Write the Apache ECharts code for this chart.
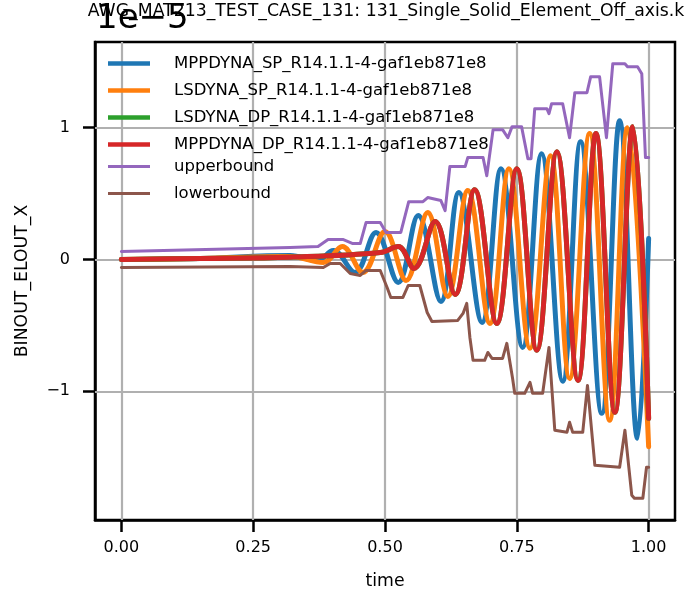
<!DOCTYPE html>
<html><head><meta charset="utf-8">
<script src="https://cdn.jsdelivr.net/npm/echarts@6/dist/echarts.min.js"></script>
<style>html,body{margin:0;padding:0;background:#fff}#c{width:689px;height:599px}</style>
</head><body><div id="c"></div><script>
const FONT = 'DejaVu Sans';
const chartTitle = 'AWG_MAT213_TEST_CASE_131: 131_Single_Solid_Element_Off_axis.k';
const offsetText = '1e\u22125';
const xName = 'time';
const yName = 'BINOUT_ELOUT_X';
const xTicks = [0, 0.25, 0.5, 0.75, 1.0];
const yTicks = [-1, 0, 1];
const names = ['MPPDYNA_SP_R14.1.1-4-gaf1eb871e8','LSDYNA_SP_R14.1.1-4-gaf1eb871e8','LSDYNA_DP_R14.1.1-4-gaf1eb871e8','MPPDYNA_DP_R14.1.1-4-gaf1eb871e8','upperbound','lowerbound'];
const colors = ['#1f77b4','#ff7f0e','#2ca02c','#d62728','#9467bd','#8c564b'];

// values in units of 1e-5, [time, value]
const mppdynaSp = [[0,0],[0.150,0.008],[0.320,0.030],[0.371,-0.008],[0.402,0.068],[0.443,-0.098],[0.483,0.205],[0.525,-0.174],[0.563,0.333],[0.606,-0.318],[0.640,0.508],[0.684,-0.477],[0.720,0.689],[0.761,-0.667],[0.797,0.803],[0.837,-0.924],[0.871,0.894],[0.911,-1.167],[0.945,1.053],[0.979,-1.356],[1.000,0.159]];
const lsdynaSp = [[0,0],[0.150,0.008],[0.320,0.023],[0.383,-0.023],[0.419,0.098],[0.458,-0.098],[0.500,0.212],[0.540,-0.159],[0.581,0.356],[0.619,-0.280],[0.657,0.523],[0.699,-0.485],[0.735,0.689],[0.775,-0.674],[0.814,0.788],[0.850,-0.902],[0.888,0.955],[0.926,-1.220],[0.960,1.000],[1.000,-1.420]];
const mppdynaDp = [[0,0],[0.150,0.008],[0.320,0.018],[0.491,0.053],[0.525,0.098],[0.555,-0.068],[0.595,0.288],[0.633,-0.265],[0.670,0.530],[0.712,-0.485],[0.750,0.689],[0.788,-0.689],[0.826,0.818],[0.866,-0.917],[0.900,0.955],[0.936,-1.159],[0.970,1.008],[1.000,-1.205]];
const lsdynaDp = [[0,0],[0.150,0.008],[0.320,0.018],[0.491,0.053],[0.525,0.098],[0.555,-0.068],[0.595,0.288],[0.633,-0.265],[0.670,0.530],[0.712,-0.485],[0.750,0.689],[0.788,-0.689],[0.826,0.818],[0.866,-0.917],[0.900,0.955],[0.936,-1.159],[0.970,1.008],[1.000,-1.205]];
const upperbound = [[0,0.061],[0.320,0.091],[0.373,0.098],[0.392,0.152],[0.420,0.152],[0.439,0.121],[0.453,0.121],[0.464,0.280],[0.491,0.280],[0.502,0.205],[0.530,0.205],[0.545,0.439],[0.572,0.439],[0.581,0.470],[0.606,0.447],[0.614,0.371],[0.623,0.705],[0.652,0.705],[0.657,0.773],[0.686,0.773],[0.693,0.636],[0.705,0.985],[0.723,0.985],[0.733,0.924],[0.741,1.008],[0.759,1.008],[0.771,0.765],[0.777,0.765],[0.784,1.144],[0.807,1.144],[0.811,1.106],[0.816,1.182],[0.837,1.182],[0.850,0.924],[0.860,1.265],[0.883,1.265],[0.890,1.386],[0.907,1.386],[0.920,0.924],[0.932,1.485],[0.955,1.485],[0.960,1.462],[0.979,1.462],[0.987,1.409],[0.994,0.773],[1.000,0.773]];
const lowerbound = [[0,-0.061],[0.320,-0.053],[0.383,-0.061],[0.396,-0.030],[0.415,-0.030],[0.434,-0.106],[0.453,-0.121],[0.464,-0.083],[0.491,-0.083],[0.504,-0.212],[0.511,-0.288],[0.534,-0.288],[0.544,-0.197],[0.566,-0.197],[0.580,-0.402],[0.589,-0.470],[0.638,-0.462],[0.648,-0.409],[0.655,-0.333],[0.661,-0.591],[0.667,-0.765],[0.689,-0.765],[0.695,-0.705],[0.703,-0.750],[0.723,-0.750],[0.731,-0.636],[0.742,-0.902],[0.746,-1.015],[0.765,-1.015],[0.775,-0.932],[0.780,-1.015],[0.799,-1.015],[0.811,-0.667],[0.822,-1.295],[0.845,-1.311],[0.850,-1.235],[0.856,-1.311],[0.875,-1.311],[0.884,-0.955],[0.898,-1.561],[0.945,-1.576],[0.955,-1.295],[0.968,-1.788],[0.973,-1.811],[0.989,-1.811],[0.996,-1.576],[1.000,-1.576]];

const allData = [mppdynaSp, lsdynaSp, lsdynaDp, mppdynaDp, upperbound, lowerbound];

const chart = echarts.init(document.getElementById('c'), null, {renderer:'canvas'});
const gridLines = xTicks.map(v => ({xAxis: v})).concat(yTicks.map(v => ({yAxis: v})));
const fmtY = v => v < 0 ? '\u2212' + Math.abs(v) : String(v);

const series = [{
  type:'line', data:[], z:1, silent:true, symbol:'none',
  markLine:{silent:true, symbol:['none','none'], z:1, label:{show:false}, animation:false,
    lineStyle:{color:'#b0b0b0', width:2.2, type:'solid'}, emphasis:{disabled:true}, data:gridLines}
}];
allData.forEach((d, i) => {
  const main = i < 4;
  series.push({
    name:names[i], type:'line', data:d, showSymbol:false, symbol:'none', z:2,
    smooth: main ? 0.38 : false,
    lineStyle:{color:colors[i], width: main ? 5 : 3, cap:'round', join:'round'},
    itemStyle:{color:colors[i]}, emphasis:{disabled:true}
  });
});

const legendBase = {orient:'vertical', left:108, itemWidth:42, itemGap:10, padding:0, selectedMode:false,
  textStyle:{fontFamily:FONT, fontSize:16.5, color:'#000', lineHeight:16, padding:[0,0,0,19]}};

chart.setOption({
  animation:false,
  backgroundColor:'#fff',
  grid:{left:95, right:14, top:42, bottom:79, show:true, borderColor:'#000', borderWidth:2.5, backgroundColor:'transparent'},
  xAxis:{type:'value', min:-0.05, max:1.05, name:xName, nameLocation:'middle', nameGap:53,
    nameTextStyle:{fontFamily:FONT, fontSize:17.3, color:'#000'},
    axisLine:{show:true, onZero:false, lineStyle:{color:'#000', width:2.5}},
    axisTick:{show:true, customValues:xTicks, length:12, inside:false, lineStyle:{color:'#000', width:2.5}},
    axisLabel:{customValues:xTicks, formatter:v => v.toFixed(2), fontFamily:FONT, fontSize:16, color:'#000', margin:20},
    splitLine:{show:false}},
  yAxis:{type:'value', min:-1.976, max:1.65, name:yName, nameLocation:'middle', nameGap:64,
    nameTextStyle:{fontFamily:FONT, fontSize:17.3, color:'#000'},
    axisLine:{show:true, onZero:false, lineStyle:{color:'#000', width:2.5}},
    axisTick:{show:true, customValues:yTicks, length:12, inside:false, lineStyle:{color:'#000', width:2.5}},
    axisLabel:{customValues:yTicks, formatter:fmtY, fontFamily:FONT, fontSize:16, color:'#000', margin:25},
    splitLine:{show:false}},
  legend:[
    Object.assign({}, legendBase, {top:55, itemHeight:4.5, data:names.slice(0,4).map(n => ({name:n, icon:'rect'}))}),
    Object.assign({}, legendBase, {top:158, itemHeight:3, data:names.slice(4).map(n => ({name:n, icon:'rect'}))})
  ],
  graphic:{elements:[
    {type:'text', x:386, y:12, z:10, style:{text:chartTitle, textAlign:'center', textVerticalAlign:'middle', fontFamily:FONT, fontSize:17.3, fill:'#000'}},
    {type:'text', x:96, y:19, z:11, style:{text:offsetText, textAlign:'left', textVerticalAlign:'middle', fontFamily:FONT, fontSize:34, fill:'#000'}}
  ]},
  series:series
});
</script></body></html>
